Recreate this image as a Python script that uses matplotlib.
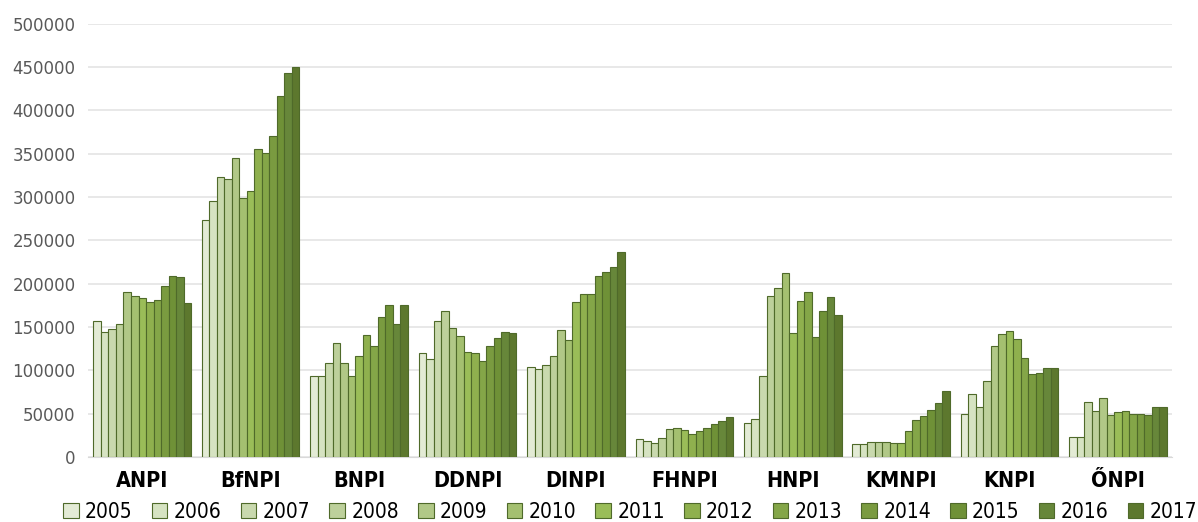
import matplotlib
matplotlib.use("Agg")
import matplotlib.pyplot as plt
import numpy as np

parks = ["ANPI", "BfNPI", "BNPI", "DDNPI", "DINPI", "FHNPI", "HNPI", "KMNPI", "KNPI", "ŐNPI"]
years = ["2005", "2006", "2007", "2008", "2009", "2010", "2011", "2012", "2013", "2014", "2015", "2016", "2017"]

# visitors per park, one list per park, 2005..2017
anpi = [157000, 144000, 148000, 154000, 191000, 186000, 184000, 179000, 181000, 197000, 209000, 208000, 178000]
bfnpi = [273000, 295000, 323000, 321000, 345000, 299000, 307000, 356000, 351000, 371000, 417000, 443000, 450000]
bnpi = [94000, 93000, 109000, 131000, 109000, 94000, 116500, 141000, 128000, 162000, 176000, 154000, 175000]
ddnpi = [119600, 112700, 157000, 168000, 149000, 139700, 121500, 120000, 110700, 128500, 137000, 144000, 142700]
dinpi = [103800, 102000, 106500, 116000, 146000, 135000, 179000, 188000, 188000, 209000, 213000, 219000, 237000]
fhnpi = [21000, 18500, 16600, 22000, 32000, 33500, 31600, 26600, 29700, 33500, 37800, 41000, 46000]
hnpi = [39000, 44000, 94000, 186000, 195600, 212000, 143000, 180000, 191000, 138500, 169000, 185000, 164000]
kmnpi = [14700, 14700, 17700, 17700, 17700, 15800, 15800, 30000, 42800, 47000, 54800, 62500, 76000]
knpi = [50000, 72500, 58000, 88000, 127700, 142000, 145000, 136000, 114000, 95700, 96800, 103000, 103000]
onpi = [23500, 23500, 63700, 52900, 68300, 48600, 51700, 53600, 49800, 49800, 48200, 57900, 57900]

data = np.array([anpi, bfnpi, bnpi, ddnpi, dinpi, fhnpi, hnpi, kmnpi, knpi, onpi])

colors = ["#e3ebd5", "#d6e3c2", "#c9d9ae", "#bdd09b", "#b1c887", "#a4c070",
          "#9abd58", "#8fb04e", "#84a648", "#7a9b40", "#6f9137", "#67873a", "#5d782e"]

fig = plt.figure(figsize=(11.98, 5.22), dpi=100)
ax = fig.add_axes([0.0735, 0.1245, 0.905, 0.83])

x = np.arange(len(parks))
w = 0.9 / len(years)
for i, yr in enumerate(years):
    ax.bar(x - 0.45 + w * (i + 0.5), data[:, i], width=w, color=colors[i],
           edgecolor="#4f6a2a", linewidth=0.8, label=yr, zorder=3)

ax.set_xlim(-0.5, len(parks) - 0.5)
ax.set_ylim(0, 500000)
ax.set_yticks(np.arange(0, 500001, 50000))
ax.yaxis.grid(True, color="#e4e4e4", linewidth=1.2, zorder=0)
for s in ["top", "right", "left"]:
    ax.spines[s].set_visible(False)
ax.spines["bottom"].set_color("#d9d9d9")
ax.tick_params(axis="y", length=0, labelsize=12, labelcolor="#595959", pad=9)
ax.tick_params(axis="x", length=0, pad=10)
ax.set_xticks(x)
ax.set_xticklabels(parks, fontsize=15.5, fontweight="bold", fontstretch="condensed")

leg = fig.legend(loc="lower center", bbox_to_anchor=(0.526, -0.035), ncol=13, frameon=False,
                 prop={"size": 15, "stretch": "condensed"},
                 handlelength=0.75, handleheight=0.75, handletextpad=0.3, columnspacing=0.92)

fig.savefig("out.png", dpi=100)
